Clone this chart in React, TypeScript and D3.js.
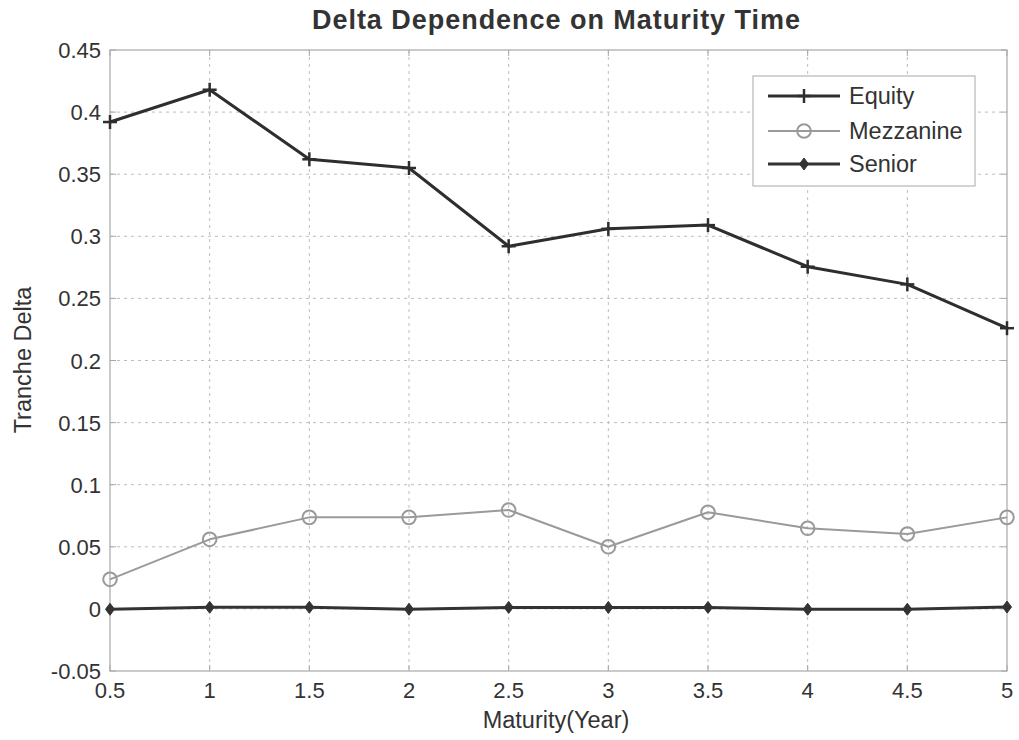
import React from "react";
import * as d3 from "d3";

const maturities = [0.5, 1, 1.5, 2, 2.5, 3, 3.5, 4, 4.5, 5];
const equity = [0.392, 0.418, 0.362, 0.355, 0.292, 0.306, 0.309, 0.2755, 0.2613, 0.226];
const mezzanine = [0.0238, 0.056, 0.0737, 0.0737, 0.0796, 0.05, 0.0778, 0.0649, 0.0603, 0.0737];
const senior = [-0.0003, 0.0013, 0.0013, -0.0003, 0.0012, 0.0012, 0.0012, -0.0003, -0.0003, 0.0015];
const xTicks = [0.5, 1, 1.5, 2, 2.5, 3, 3.5, 4, 4.5, 5];
const yTicks = [-0.05, 0, 0.05, 0.1, 0.15, 0.2, 0.25, 0.3, 0.35, 0.4, 0.45];
const seriesNames = ["Equity", "Mezzanine", "Senior"];

const W = 1019, H = 740;
const L = 110, R = 1007, T = 50, B = 671;
const FONT = "'Liberation Sans', Arial, Helvetica, sans-serif";

function fmt(v: number) {
  if (Math.abs(v) < 1e-9) return "0";
  return String(+v.toFixed(2));
}

function Marker({ kind, x, y, color }: { kind: string; x: number; y: number; color: string }) {
  if (kind === "plus") {
    return (
      <g stroke={color} strokeWidth={2.5}>
        <line x1={x - 7} x2={x + 7} y1={y} y2={y} />
        <line x1={x} x2={x} y1={y - 7} y2={y + 7} />
      </g>
    );
  }
  if (kind === "circle") {
    return <circle cx={x} cy={y} r={6.8} fill="none" stroke={color} strokeWidth={2} />;
  }
  return (
    <path d={`M${x},${y - 6}L${x + 4.5},${y}L${x},${y + 6}L${x - 4.5},${y}Z`} fill={color} stroke={color} strokeWidth={1} />
  );
}

export default function App() {
  const x = d3.scaleLinear().domain([0.5, 5]).range([L, R]);
  const y = d3.scaleLinear().domain([-0.05, 0.45]).range([B, T]);
  const line = d3.line<number>().x((_, i) => x(maturities[i])).y((d) => y(d));

  const series = [
    { name: seriesNames[0], data: equity, color: "#2e2e2e", width: 3, marker: "plus" },
    { name: seriesNames[1], data: mezzanine, color: "#9a9a9a", width: 2, marker: "circle" },
    { name: seriesNames[2], data: senior, color: "#333333", width: 3, marker: "diamond" },
  ];

  const legendRows = [96, 131, 164];

  return (
    <svg width={W} height={H} style={{ position: "absolute", left: 0, top: 0, background: "white" }} fontFamily={FONT}>
      <rect x={0} y={0} width={W} height={H} fill="white" />
      {/* grid */}
      <g stroke="#bdbdbd" strokeWidth={1} strokeDasharray="3,4">
        {xTicks.slice(1, -1).map((t) => (
          <line key={"gx" + t} x1={x(t)} x2={x(t)} y1={T} y2={B} />
        ))}
        {yTicks.slice(1, -1).map((t) => (
          <line key={"gy" + t} x1={L} x2={R} y1={y(t)} y2={y(t)} />
        ))}
      </g>
      {/* axes box */}
      <rect x={L} y={T} width={R - L} height={B - T} fill="none" stroke="#a8a8a8" strokeWidth={1.2} />
      {/* tick marks */}
      <g stroke="#a8a8a8" strokeWidth={1}>
        {xTicks.map((t) => (
          <g key={"tx" + t}>
            <line x1={x(t)} x2={x(t)} y1={B} y2={B - 6} />
            <line x1={x(t)} x2={x(t)} y1={T} y2={T + 6} />
          </g>
        ))}
        {yTicks.map((t) => (
          <g key={"ty" + t}>
            <line x1={L} x2={L + 6} y1={y(t)} y2={y(t)} />
            <line x1={R} x2={R - 6} y1={y(t)} y2={y(t)} />
          </g>
        ))}
      </g>
      {/* tick labels */}
      <g fill="#333" fontSize={22}>
        {xTicks.map((t) => (
          <text key={"lx" + t} x={x(t)} y={698} textAnchor="middle">{fmt(t)}</text>
        ))}
        {yTicks.map((t) => (
          <text key={"ly" + t} x={101} y={y(t) + 8} textAnchor="end">{fmt(t)}</text>
        ))}
      </g>
      {/* series */}
      {series.map((s) => (
        <g key={s.name}>
          <path d={line(s.data) || ""} fill="none" stroke={s.color} strokeWidth={s.width} strokeLinejoin="round" />
          {s.data.map((v, i) => (
            <Marker key={i} kind={s.marker} x={x(maturities[i])} y={y(v)} color={s.color} />
          ))}
        </g>
      ))}
      {/* legend */}
      <rect x={753} y={76} width={222} height={110} fill="white" stroke="#a8a8a8" strokeWidth={1} />
      {series.map((s, i) => (
        <g key={"leg" + s.name}>
          <line x1={768} x2={840} y1={legendRows[i]} y2={legendRows[i]} stroke={s.color} strokeWidth={s.width} />
          <Marker kind={s.marker} x={804} y={legendRows[i]} color={s.color} />
          <text x={849} y={legendRows[i] + 8} fontSize={23.5} fill="#333">{s.name}</text>
        </g>
      ))}
      {/* title & labels */}
      <text x={556} y={29} textAnchor="middle" fontSize={27} fontWeight="bold" fill="#333" textLength={488} lengthAdjust="spacing">Delta Dependence on Maturity Time</text>
      <text x={556} y={728} textAnchor="middle" fontSize={23.5} fill="#333">Maturity(Year)</text>
      <text transform="translate(31,360) rotate(-90)" textAnchor="middle" fontSize={23.5} fill="#333">Tranche Delta</text>
    </svg>
  );
}
